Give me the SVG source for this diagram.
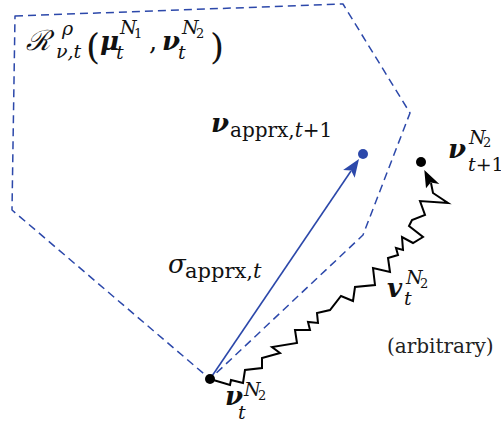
<svg xmlns="http://www.w3.org/2000/svg" width="501" height="424" viewBox="0 0 501 424">
<style>
.dash{fill:none;stroke:#2c48aa;stroke-width:1.5;stroke-dasharray:8 5;stroke-linejoin:round}
.blue{stroke:#2c48aa;stroke-width:1.6;fill:none}
.zig{stroke:#000;stroke-width:2;fill:none;stroke-linejoin:miter}
</style>
<g id="region">
<polygon class="dash" points="15,16 343,4 410,113 363,235 210,379 12,210"/>
<text x="26" y="50" font-family="DejaVu Serif" font-size="28" font-style="italic" fill="#111">ℛ</text>
<text x="62" y="35" font-family="DejaVu Serif" font-size="19" font-style="italic" fill="#111">ρ</text>
<text x="56" y="58" font-family="DejaVu Serif" font-size="19" font-style="italic" fill="#111">ν,t</text>
<text x="86" y="59" font-family="DejaVu Serif" font-size="36" fill="#111">(</text>
<text x="100" y="50" font-family="DejaVu Serif" font-size="26" font-style="italic" font-weight="bold" fill="#111">μ</text>
<text x="120" y="34" font-family="DejaVu Serif" font-size="19" font-style="italic" fill="#111">N</text>
<text x="134" y="38" font-family="DejaVu Serif" font-size="13" fill="#111">1</text>
<text x="116" y="59" font-family="DejaVu Serif" font-size="19" font-style="italic" fill="#111">t</text>
<text x="149" y="50" font-family="DejaVu Serif" font-size="26" fill="#111">,</text>
<text x="162" y="50" font-family="DejaVu Serif" font-size="26" font-style="italic" font-weight="bold" fill="#111">ν</text>
<text x="182" y="34" font-family="DejaVu Serif" font-size="19" font-style="italic" fill="#111">N</text>
<text x="196" y="38" font-family="DejaVu Serif" font-size="13" fill="#111">2</text>
<text x="178" y="59" font-family="DejaVu Serif" font-size="19" font-style="italic" fill="#111">t</text>
<text x="210" y="59" font-family="DejaVu Serif" font-size="36" fill="#111">)</text>
</g>
<g id="connectors">
<g id="sigma-arrow">
<line class="blue" x1="210" y1="379" x2="351" y2="171"/>
<polygon fill="#2c48aa" points="359,159 354.7,177.8 351.1,170.6 343.1,170"/>
<text x="168" y="273" font-family="DejaVu Serif" font-size="26" font-style="italic" fill="#111">σ</text>
<text x="185" y="278" font-family="DejaVu Serif" font-size="21" fill="#111">apprx,<tspan font-style="italic">t</tspan></text>
</g>
<g id="v-arrow">
<path class="zig" d="M210,379 L230,385 L231,380 L243,383 L245,370 L262,368 L262,358 L280,353 L272,347 L297,343 L295,330 L310,330 L308,322 L318,323 L317,313 L330,310 L341,296 L353,301 L355,287 L375,285 L373,268 L390,272 L388,258 L398,255 L396,248 L403,250 L402,237 L413,243 L423,237 L409,226 L412,220 L425,215 L420,201 L448,203 L433,193 L431,183"/>
<polygon fill="#000" points="424.3,170 439.3,184 430.7,182.5 426,188.3"/>
<text x="387" y="297" font-family="DejaVu Serif" font-size="26" font-style="italic" font-weight="bold" fill="#111">v</text>
<text x="406" y="284" font-family="DejaVu Serif" font-size="19" font-style="italic" fill="#111">N</text>
<text x="420" y="288" font-family="DejaVu Serif" font-size="13" fill="#111">2</text>
<text x="404" y="305" font-family="DejaVu Serif" font-size="19" font-style="italic" fill="#111">t</text>
<text x="387" y="353" font-family="DejaVu Serif" font-size="20" fill="#222">(arbitrary)</text>
</g>
</g>
<g id="nu-t">
<circle cx="210" cy="379" r="5" fill="#000"/>
<text x="225" y="405" font-family="DejaVu Serif" font-size="26" font-style="italic" font-weight="bold" fill="#111">ν</text>
<text x="244" y="396" font-family="DejaVu Serif" font-size="19" font-style="italic" fill="#111">N</text>
<text x="258" y="400" font-family="DejaVu Serif" font-size="13" fill="#111">2</text>
<text x="238" y="419" font-family="DejaVu Serif" font-size="19" font-style="italic" fill="#111">t</text>
</g>
<g id="nu-apprx">
<circle cx="363" cy="154" r="5" fill="#2c48aa"/>
<text x="211" y="132" font-family="DejaVu Serif" font-size="26" font-style="italic" font-weight="bold" fill="#111">ν</text>
<text x="230" y="137" font-family="DejaVu Serif" font-size="20" fill="#111">apprx,<tspan font-style="italic">t</tspan>+1</text>
</g>
<g id="nu-t1">
<circle cx="421" cy="162" r="5" fill="#000"/>
<text x="448" y="158" font-family="DejaVu Serif" font-size="26" font-style="italic" font-weight="bold" fill="#111">ν</text>
<text x="469" y="144" font-family="DejaVu Serif" font-size="19" font-style="italic" fill="#111">N</text>
<text x="483" y="147" font-family="DejaVu Serif" font-size="13" fill="#111">2</text>
<text x="468" y="171" font-family="DejaVu Serif" font-size="19" fill="#111"><tspan font-style="italic">t</tspan>+1</text>
</g>
</svg>
